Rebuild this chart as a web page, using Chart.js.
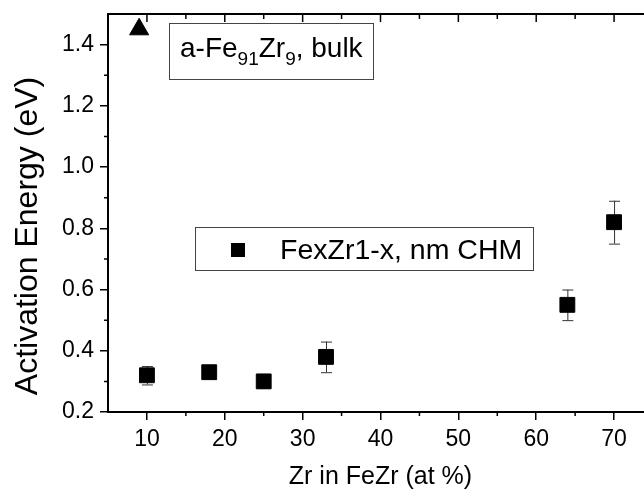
<!DOCTYPE html>
<html>
<head>
<meta charset="utf-8">
<script src="https://cdn.jsdelivr.net/npm/chart.js@4/dist/chart.umd.min.js"></script>
<style>
  html, body { margin: 0; padding: 0; background: #fff; overflow: hidden; }
  #wrap { width: 644px; height: 492px; overflow: hidden; position: relative; }
  canvas { display: block; }
</style>
</head>
<body>
<div id="wrap"><canvas id="c" width="670" height="492" style="width:670px;height:492px"></canvas></div>
<script>
// ---- data ----
const zrPercent = [10, 18, 25, 33, 64, 70];
const activationEnergy = [0.32, 0.33, 0.30, 0.38, 0.55, 0.82];
const energyError = [0.03, 0.02, 0.02, 0.05, 0.05, 0.07];
const bulkZr = [9];
const bulkEnergy = [1.45];
const xTickValues = [10, 20, 30, 40, 50, 60, 70];
const yTickValues = [0.2, 0.4, 0.6, 0.8, 1.0, 1.2, 1.4];
const xMinorValues = [15, 25, 35, 45, 55, 65];
const yMinorValues = [0.3, 0.5, 0.7, 0.9, 1.1, 1.3];
const xTitle = 'Zr in FeZr (at %)';
const yTitle = 'Activation Energy (eV)';
const seriesLabel = 'FexZr1-x, nm CHM';

const FONT = '"Liberation Sans", Arial, Helvetica, sans-serif';

const decor = {
  id: 'decor',
  beforeDatasetsDraw(chart) {
    const ctx = chart.ctx, xs = chart.scales.x, ys = chart.scales.y;
    ctx.save();
    ctx.strokeStyle = '#333';
    ctx.lineWidth = 1;
    zrPercent.forEach((v, i) => {
      const px = xs.getPixelForValue(v);
      const top = ys.getPixelForValue(activationEnergy[i] + energyError[i]);
      const bot = ys.getPixelForValue(activationEnergy[i] - energyError[i]);
      ctx.beginPath();
      ctx.moveTo(px + 0.5, top); ctx.lineTo(px + 0.5, bot);
      ctx.moveTo(px - 5, top + 0.5); ctx.lineTo(px + 6, top + 0.5);
      ctx.moveTo(px - 5, bot + 0.5); ctx.lineTo(px + 6, bot + 0.5);
      ctx.stroke();
    });
    ctx.restore();
  },
  afterDraw(chart) {
    const ctx = chart.ctx, xs = chart.scales.x, ys = chart.scales.y;
    const a = chart.chartArea;
    ctx.save();
    ctx.strokeStyle = '#000';
    // top axis line
    ctx.lineWidth = 2;
    ctx.beginPath(); ctx.moveTo(a.left - 1, a.top); ctx.lineTo(a.right, a.top); ctx.stroke();
    ctx.lineWidth = 1.5;
    ctx.beginPath();
    // minor ticks left/bottom (outward)
    yMinorValues.forEach(v => { const p = ys.getPixelForValue(v); ctx.moveTo(a.left - 4, p); ctx.lineTo(a.left, p); });
    xMinorValues.forEach(v => { const p = xs.getPixelForValue(v); ctx.moveTo(p, a.bottom); ctx.lineTo(p, a.bottom + 4); });
    // top ticks (inward)
    xTickValues.forEach(v => { const p = xs.getPixelForValue(v); ctx.moveTo(p, a.top); ctx.lineTo(p, a.top + 8); });
    xMinorValues.forEach(v => { const p = xs.getPixelForValue(v); ctx.moveTo(p, a.top); ctx.lineTo(p, a.top + 5); });
    ctx.stroke();

    // y-axis title
    ctx.fillStyle = '#000';
    ctx.save();
    ctx.translate(28, 236);
    ctx.rotate(-Math.PI / 2);
    ctx.font = '32px ' + FONT;
    ctx.textAlign = 'center';
    ctx.textBaseline = 'middle';
    ctx.fillText(yTitle, 0, 0);
    ctx.restore();

    // legend box 1 (bulk)
    ctx.strokeStyle = '#444';
    ctx.lineWidth = 1;
    ctx.strokeRect(169.5, 23.5, 204, 56);
    ctx.textBaseline = 'alphabetic';
    ctx.textAlign = 'left';
    let x = 180;
    const base = 57;
    const parts = [['a-Fe', false], ['91', true], ['Zr', false], ['9', true], [', bulk', false]];
    parts.forEach(([t, sub]) => {
      ctx.font = (sub ? '19px ' : '28px ') + FONT;
      ctx.fillText(t, x, sub ? base + 8 : base);
      x += ctx.measureText(t).width;
    });

    // legend box 2 (series)
    ctx.strokeRect(195.5, 227.5, 338, 43);
    ctx.fillStyle = '#000';
    ctx.fillRect(231, 243, 14, 14);
    ctx.font = '28.5px ' + FONT;
    ctx.fillText(seriesLabel, 280, 259);
    ctx.restore();
  }
};

new Chart(document.getElementById('c'), {
  type: 'scatter',
  data: {
    datasets: [
      {
        label: seriesLabel,
        data: zrPercent.map((v, i) => ({ x: v, y: activationEnergy[i] })),
        pointStyle: 'rect',
        pointRadius: 10.5,
        pointHoverRadius: 10.5,
        backgroundColor: '#000',
        borderColor: '#000',
        borderWidth: 1
      },
      {
        label: 'a-Fe91Zr9, bulk',
        data: bulkZr.map((v, i) => ({ x: v, y: bulkEnergy[i] })),
        pointStyle: 'triangle',
        pointRadius: 11,
        pointHoverRadius: 11,
        backgroundColor: '#000',
        borderColor: '#000',
        borderWidth: 1
      }
    ]
  },
  options: {
    responsive: false,
    animation: false,
    devicePixelRatio: 1,
    layout: { padding: { top: 14, right: 17, left: 0, bottom: 0 } },
    plugins: { legend: { display: false }, tooltip: { enabled: false } },
    scales: {
      x: {
        type: 'linear', position: 'bottom', min: 5, max: 75,
        afterBuildTicks: s => { s.ticks = xTickValues.map(v => ({ value: v })); },
        afterFit: s => { s.height = 80; s.paddingLeft = 0; s.paddingRight = 0; },
        ticks: {
          color: '#000', font: { family: FONT, size: 23 }, padding: 6,
          maxRotation: 0, autoSkip: false,
          callback: v => String(v)
        },
        grid: { drawOnChartArea: false, drawTicks: true, tickLength: 8, color: '#000', lineWidth: 1.5 },
        border: { display: true, color: '#000', width: 2 },
        title: { display: true, text: xTitle, color: '#000', font: { family: FONT, size: 25 }, padding: { top: 0, bottom: 0 } }
      },
      y: {
        type: 'linear', position: 'left', min: 0.2, max: 1.5,
        afterBuildTicks: s => { s.ticks = yTickValues.map(v => ({ value: v })); },
        afterFit: s => { s.width = 108; s.paddingTop = 0; s.paddingBottom = 0; },
        ticks: {
          color: '#000', font: { family: FONT, size: 23 }, padding: 6,
          callback: v => Number(v).toFixed(1)
        },
        grid: { drawOnChartArea: false, drawTicks: true, tickLength: 8, color: '#000', lineWidth: 1.5 },
        border: { display: true, color: '#000', width: 2 }
      }
    }
  },
  plugins: [decor]
});
</script>
</body>
</html>
